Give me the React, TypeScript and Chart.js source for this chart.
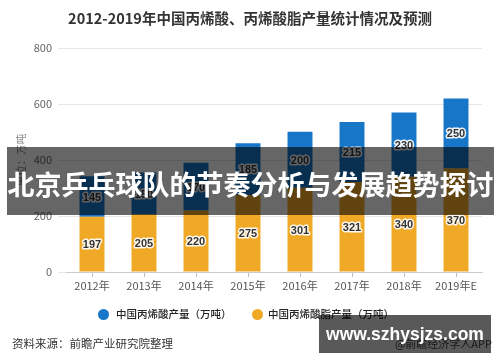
import React, { useEffect, useRef } from 'react';
import { Chart, registerables } from 'chart.js';

Chart.register(...registerables);

const categories = ['2012年', '2013年', '2014年', '2015年', '2016年', '2017年', '2018年', '2019年E'];
const acidValues = [145, 150, 170, 185, 200, 215, 230, 250];
const esterValues = [197, 205, 220, 275, 301, 321, 340, 370];
const yMin = 0;
const yMax = 800;
const yStep = 200;
const acidLabel = '中国丙烯酸产量（万吨）';
const esterLabel = '中国丙烯酸脂产量（万吨）';
const chartTitle = '2012-2019年中国丙烯酸、丙烯酸脂产量统计情况及预测';
const yTitle = '单位：万吨';
const sourceText = '资料来源：前瞻产业研究院整理';
const appText = '@前瞻经济学人APP';
const bannerText = '北京乒乓球队的节奏分析与发展趋势探讨';
const siteText = 'www.szhysjzs.com';

const BLUE = '#1876c9';
const ORANGE = '#f0a926';
const CJK = '"Noto Sans CJK SC", "Liberation Sans", sans-serif';

const segLabels = {
  id: 'segLabels',
  afterDatasetsDraw(chart: any) {
    const ctx = chart.ctx;
    ctx.save();
    ctx.font = 'bold 11px "Liberation Sans", sans-serif';
    ctx.textAlign = 'center';
    ctx.textBaseline = 'middle';
    ctx.lineJoin = 'round';
    chart.data.datasets.forEach((ds: any, i: number) => {
      const meta = chart.getDatasetMeta(i);
      meta.data.forEach((el: any, j: number) => {
        const p = el.getProps(['x', 'y', 'base'], true);
        const cy = (p.y + p.base) / 2 + 1;
        const t = String(ds.data[j]);
        ctx.lineWidth = 3;
        ctx.strokeStyle = 'rgba(255,255,255,0.9)';
        ctx.strokeText(t, p.x, cy);
        ctx.fillStyle = '#333';
        ctx.fillText(t, p.x, cy);
      });
    });
    ctx.restore();
  },
};

export default function App() {
  const ref = useRef<HTMLCanvasElement | null>(null);

  useEffect(() => {
    if (!ref.current) return;
    Chart.defaults.font.family = CJK;
    const chart = new Chart(ref.current, {
      type: 'bar',
      data: {
        labels: categories,
        datasets: [
          {
            label: esterLabel,
            data: esterValues,
            backgroundColor: ORANGE,
            categoryPercentage: 0.6,
            barPercentage: 0.8,
          },
          {
            label: acidLabel,
            data: acidValues,
            backgroundColor: BLUE,
            categoryPercentage: 0.6,
            barPercentage: 0.8,
          },
        ],
      },
      options: {
        animation: false,
        responsive: false,
        maintainAspectRatio: false,
        layout: { padding: { top: 48, right: 18, bottom: 60, left: 0 } },
        plugins: {
          legend: { display: false },
          title: { display: false },
          tooltip: { enabled: false },
        },
        scales: {
          x: {
            stacked: true,
            grid: { drawOnChartArea: false, drawTicks: true, tickLength: 5, offset: false, color: '#bbb' },
            border: { display: true, color: '#ccc' },
            ticks: { color: '#555', font: { size: 11 }, padding: 2, maxRotation: 0, autoSkip: false },
            afterFit: (s: any) => { s.height = 30; },
          },
          y: {
            stacked: true,
            min: yMin,
            max: yMax,
            ticks: { stepSize: yStep, color: '#666', padding: 6, font: { size: 11 } },
            grid: { color: '#e6e6e6', tickLength: 8 },
            border: { display: false },
            title: { display: true, text: yTitle, color: '#888', font: { size: 10.5 }, padding: { top: 15, bottom: 0 } },
            afterFit: (s: any) => { s.width = 66; },
          },
        },
      } as any,
      plugins: [segLabels],
    });
    return () => chart.destroy();
  }, []);

  const abs = (o: any): React.CSSProperties => ({ position: 'absolute', ...o });

  return (
    <div style={{ position: 'fixed', left: 0, top: 0, width: 500, height: 362, background: '#fff', overflow: 'hidden', fontFamily: CJK }}>
      <canvas ref={ref} width={500} height={362} style={{ position: 'absolute', left: 0, top: 0, width: 500, height: 362 }} />
      <div style={abs({ left: 0, top: 8, width: 500, textAlign: 'center', fontSize: 14.5, lineHeight: '20px', fontWeight: 700, color: '#333' })}>{chartTitle}</div>
      <div style={abs({ left: 97.5, top: 308.5, width: 11, height: 11, borderRadius: '50%', background: BLUE })} />
      <div style={abs({ left: 116, top: 306, fontSize: 10.5, lineHeight: '16px', color: '#222', fontWeight: 500, whiteSpace: 'nowrap' })}>{acidLabel}</div>
      <div style={abs({ left: 251.5, top: 308.5, width: 11, height: 11, borderRadius: '50%', background: ORANGE })} />
      <div style={abs({ left: 268, top: 306, fontSize: 10.5, lineHeight: '16px', color: '#222', fontWeight: 500, whiteSpace: 'nowrap' })}>{esterLabel}</div>
      <div style={abs({ left: 12, top: 335, fontSize: 11.5, lineHeight: '16px', color: '#333', whiteSpace: 'nowrap' })}>{sourceText}</div>
      <div style={abs({ right: 8, top: 335, fontSize: 11, lineHeight: '16px', color: '#444', whiteSpace: 'nowrap' })}>{appText}</div>
      <div style={abs({ left: 7, top: 147, width: 487, height: 68, background: 'rgba(0,0,0,0.6)', display: 'flex', alignItems: 'center', justifyContent: 'center', boxSizing: 'border-box', paddingTop: 5 })}>
        <span style={{ color: '#fff', fontWeight: 700, fontSize: 27, lineHeight: '34px', whiteSpace: 'nowrap' }}>{bannerText}</span>
      </div>
      <div style={abs({ left: 319, top: 315, width: 172, height: 38, background: 'rgba(0,0,0,0.65)', display: 'flex', alignItems: 'center', justifyContent: 'center' })}>
        <span style={{ color: '#fff', fontWeight: 700, fontSize: 17.5, fontFamily: '"Liberation Sans", Arial, sans-serif', whiteSpace: 'nowrap' }}>{siteText}</span>
      </div>
    </div>
  );
}
